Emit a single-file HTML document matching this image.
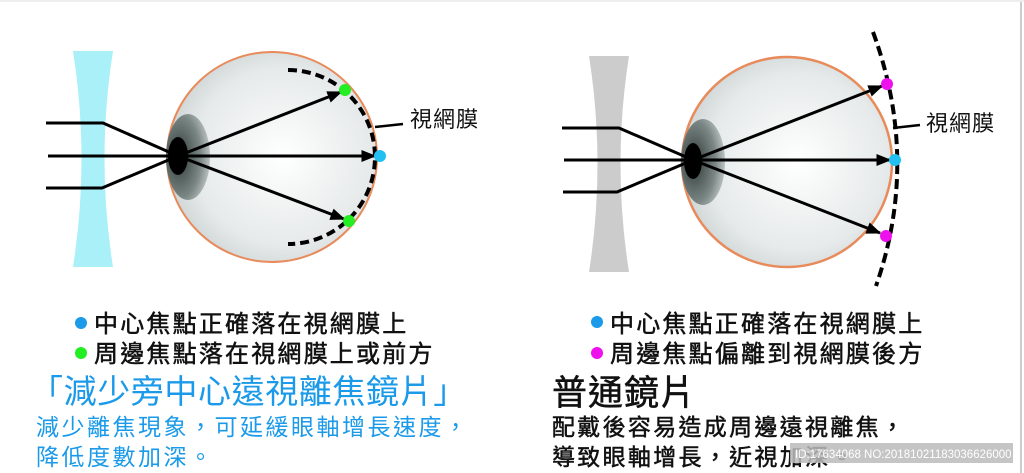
<!DOCTYPE html>
<html><head><meta charset="utf-8"><style>
html,body{margin:0;padding:0;background:#fff}
svg{display:block}
text{font-family:"Liberation Sans","Noto Sans CJK TC",sans-serif}
</style></head><body>
<svg width="1024" height="473" viewBox="0 0 1024 473" xmlns="http://www.w3.org/2000/svg">
<defs>
<radialGradient id="ball" cx="0.55" cy="0.5" r="0.6">
<stop offset="0" stop-color="#ffffff"/><stop offset="0.7" stop-color="#e6eaea"/><stop offset="1" stop-color="#c9cfcf"/>
</radialGradient>
<radialGradient id="iris" cx="0.3" cy="0.5" r="0.8">
<stop offset="0" stop-color="#2f3a38"/><stop offset="0.6" stop-color="#7b8784"/><stop offset="1" stop-color="#d8dddc"/>
</radialGradient>
<marker id="ar" viewBox="0 0 10 10" refX="9" refY="5" markerWidth="5" markerHeight="5" orient="auto" markerUnits="strokeWidth">
<path d="M0,1 L10,5 L0,9 Z" fill="#000"/></marker>
</defs>
<rect x="0" y="0" width="1024" height="473" fill="#fff"/>
<line x1="1021" y1="0" x2="1021" y2="473" stroke="#ccc" stroke-width="2"/>
<line x1="0" y1="1" x2="1024" y2="1" stroke="#eee" stroke-width="2"/>

<!-- LEFT -->
<path d="M73,51 L113,51 Q96,159 113,267 L73,267 Q90,159 73,51 Z" fill="#aaf0f8"/>
<circle cx="272" cy="157" r="105" fill="url(#ball)" stroke="#e88a5a" stroke-width="2"/>
<ellipse cx="188" cy="157" rx="22" ry="43" fill="url(#iris)"/>
<ellipse cx="178" cy="156" rx="10" ry="19" fill="#000"/>
<path d="M288,70 A87,87 0 0 1 288,244" fill="none" stroke="#000" stroke-width="4" stroke-dasharray="9,5"/>
<g stroke="#000" stroke-width="3" fill="none">
<polyline points="46,123 103,123 178,156"/>
<polyline points="46,188 102,188 178,156"/>
<line x1="48" y1="156" x2="375" y2="156" marker-end="url(#ar)"/>
<line x1="178" y1="156" x2="341" y2="92" marker-end="url(#ar)"/>
<line x1="178" y1="156" x2="344" y2="219" marker-end="url(#ar)"/>
<line x1="375" y1="127" x2="403" y2="124" stroke-width="2.5"/>
</g>
<circle cx="345" cy="90" r="6" fill="#22ee22"/>
<circle cx="349" cy="221" r="6" fill="#22ee22"/>
<circle cx="380" cy="156" r="6" fill="#22c0f0"/>
<text x="410" y="127" font-size="22" fill="#111" letter-spacing="1">視網膜</text>

<!-- RIGHT -->
<path d="M589,56 L629,56 Q612,164 629,272 L589,272 Q606,164 589,56 Z" fill="#cccccc"/>
<circle cx="787" cy="162" r="105" fill="url(#ball)" stroke="#e88a5a" stroke-width="2.5"/>
<ellipse cx="703" cy="162" rx="22" ry="43" fill="url(#iris)"/>
<ellipse cx="693" cy="161" rx="9" ry="18" fill="#000"/>
<path d="M873,32 Q920,160 876,286" fill="none" stroke="#000" stroke-width="4" stroke-dasharray="10,5"/>
<g stroke="#000" stroke-width="3" fill="none">
<polyline points="562,128 619,128 693,160"/>
<polyline points="563,192 617,192 693,160"/>
<line x1="564" y1="160" x2="890" y2="160" marker-end="url(#ar)"/>
<line x1="693" y1="160" x2="882" y2="86" marker-end="url(#ar)"/>
<line x1="693" y1="160" x2="880" y2="233" marker-end="url(#ar)"/>
<line x1="893" y1="128" x2="920" y2="125" stroke-width="2.5"/>
</g>
<circle cx="887" cy="84" r="6" fill="#ee11ee"/>
<circle cx="886" cy="236" r="6" fill="#ee11ee"/>
<circle cx="895" cy="160" r="6" fill="#22c0f0"/>
<text x="926" y="131" font-size="22" fill="#111" letter-spacing="1">視網膜</text>

<!-- LEFT TEXT -->
<g stroke="#111" stroke-width="0.5">
<text x="94" y="332" font-size="24" fill="#111" letter-spacing="2.2">中心焦點正確落在視網膜上</text>
<text x="94" y="362" font-size="24" fill="#111" letter-spacing="2.2">周邊焦點落在視網膜上或前方</text>
</g>
<circle cx="81" cy="323" r="6" fill="#1a9ae8"/>
<circle cx="81" cy="353" r="6" fill="#22ee22"/>
<text x="30" y="403" font-size="33" fill="#1a9ae8" letter-spacing="0.6">「減少旁中心遠視離焦鏡片」</text>
<text x="36" y="435" font-size="23" fill="#1a9ae8" letter-spacing="2.5">減少離焦現象，可延緩眼軸增長速度，</text>
<text x="36" y="465" font-size="23" fill="#1a9ae8" letter-spacing="2.5">降低度數加深。</text>

<!-- RIGHT TEXT -->
<g stroke="#111" stroke-width="0.5">
<text x="610" y="332" font-size="24" fill="#111" letter-spacing="2.2">中心焦點正確落在視網膜上</text>
<text x="610" y="362" font-size="24" fill="#111" letter-spacing="2.2">周邊焦點偏離到視網膜後方</text>
<text x="552" y="405" font-size="35" fill="#111" letter-spacing="1">普通鏡片</text>
<text x="552" y="435" font-size="23" fill="#111" letter-spacing="2.3">配戴後容易造成周邊遠視離焦，</text>
<text x="552" y="465" font-size="23" fill="#111" letter-spacing="2.3">導致眼軸增長，近視加深。</text>
</g>
<circle cx="597" cy="322" r="6" fill="#1a9ae8"/>
<circle cx="597" cy="353" r="6" fill="#ee11ee"/>
<rect x="790" y="443" width="223" height="20" fill="#bbb" opacity="0.85"/>
<text x="795" y="458" font-size="11.5" fill="#fff">ID:17634068 NO:20181021183036626000</text>
</svg>
</body></html>
